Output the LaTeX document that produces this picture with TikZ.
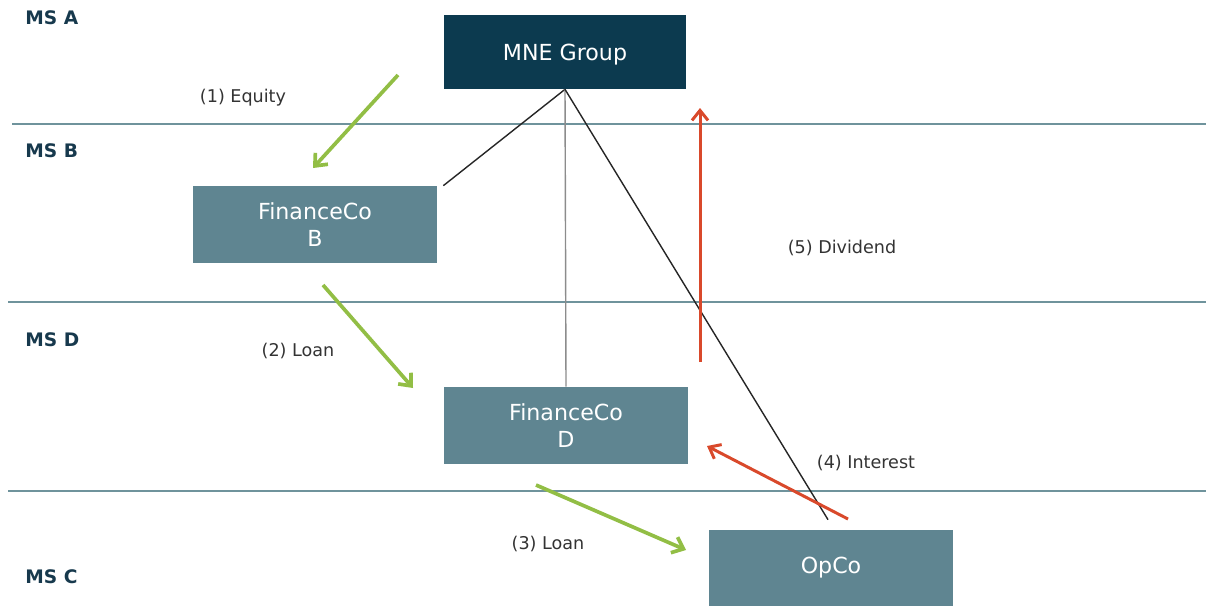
\documentclass[tikz,border=0pt]{standalone}
\usepackage{fontspec}
\setmainfont{DejaVu Sans}
\usetikzlibrary{arrows.meta,calc}
\definecolor{navy}{HTML}{0C3A4F}
\definecolor{tealbox}{HTML}{5F8591}
\definecolor{rule}{HTML}{6F939C}
\definecolor{mslabel}{HTML}{17394D}
\definecolor{flowgreen}{HTML}{92BE45}
\definecolor{flowred}{HTML}{D9492B}
\definecolor{labeltext}{HTML}{333333}
\tikzset{
  entity/.style={fill=tealbox, text=white, inner sep=0pt, align=center,
    minimum width=4.88cm, minimum height=1.54cm, font=\fontsize{12.6}{15}\selectfont},
  topbox/.style={entity, fill=navy, minimum width=4.84cm, minimum height=1.48cm},
  state/.style={anchor=west, text=mslabel, font=\bfseries\fontsize{10.6}{12}\selectfont, inner sep=0pt},
  flowlabel/.style={text=labeltext, font=\fontsize{10}{12}\selectfont, inner sep=0pt},
  border/.style={draw=rule, line width=1.1pt},
  owner/.style={draw=black!85, line width=0.8pt},
  ownergray/.style={draw=black!45, line width=0.8pt},
  greenflow/.style={draw=flowgreen, line width=2.1pt, -{Straight Barb[length=0.2cm,width=0.34cm]}},
  redflow/.style={draw=flowred, line width=1.7pt, -{Straight Barb[length=0.2cm,width=0.32cm]}},
}
\begin{document}
\begin{tikzpicture}[x=0.02cm, y=-0.02cm]
\useasboundingbox (0,0) rectangle (1206,606);

% jurisdiction borders
\draw[border] (12,124) -- (1206,124);
\draw[border] (8,302) -- (1206,302);
\draw[border] (8,491) -- (1206,491);

% member state labels
\node[state] (msa) at (25,18) {MS A};
\node[state] (msb) at (25,151) {MS B};
\node[state] (msd) at (25,340) {MS D};
\node[state] (msc) at (25,577) {MS C};

% entities
\node[topbox, text depth=0pt] (mne) at (565,52) {MNE Group};
\node[entity] (fcb) at (315,224.5) {FinanceCo\\B};
\node[entity] (fcd) at (566,425.5) {FinanceCo\\D};
\node[entity, minimum height=1.52cm] (opco) at (831,568) {OpCo};

% ownership lines
\coordinate (fcbtip) at ($(fcb.north east)+(6,0)$);
\coordinate (opcotip) at ($(opco.north)+(-3,-10)$);
\draw[owner] (mne.south) -- (fcbtip);
\draw[ownergray] (mne.south) -- (fcd.north);
\draw[owner] (mne.south) -- (opcotip);

% financing flows
\coordinate (eqs) at (398,75);  \coordinate (eqe) at (313,168);
\coordinate (l1s) at (323,285); \coordinate (l1e) at (413,388);
\coordinate (l2s) at (536,485); \coordinate (l2e) at (686,550);
\coordinate (ins) at (848,519); \coordinate (ine) at (707,446);
\coordinate (dvs) at (700,362); \coordinate (dve) at (700,108);
\draw[greenflow] (eqs) -- (eqe);
\draw[greenflow] (l1s) -- (l1e);
\draw[greenflow] (l2s) -- (l2e);
\draw[redflow] (ins) -- (ine);
\draw[redflow] (dvs) -- (dve);

% flow labels
\node[flowlabel] (leq) at (243,98) {(1) Equity};
\node[flowlabel] (ll1) at (298,351) {(2) Loan};
\node[flowlabel] (ll2) at (548,544) {(3) Loan};
\node[flowlabel] (lin) at (866,463) {(4) Interest};
\node[flowlabel] (ldv) at (842,248) {(5) Dividend};
\end{tikzpicture}
\end{document}
